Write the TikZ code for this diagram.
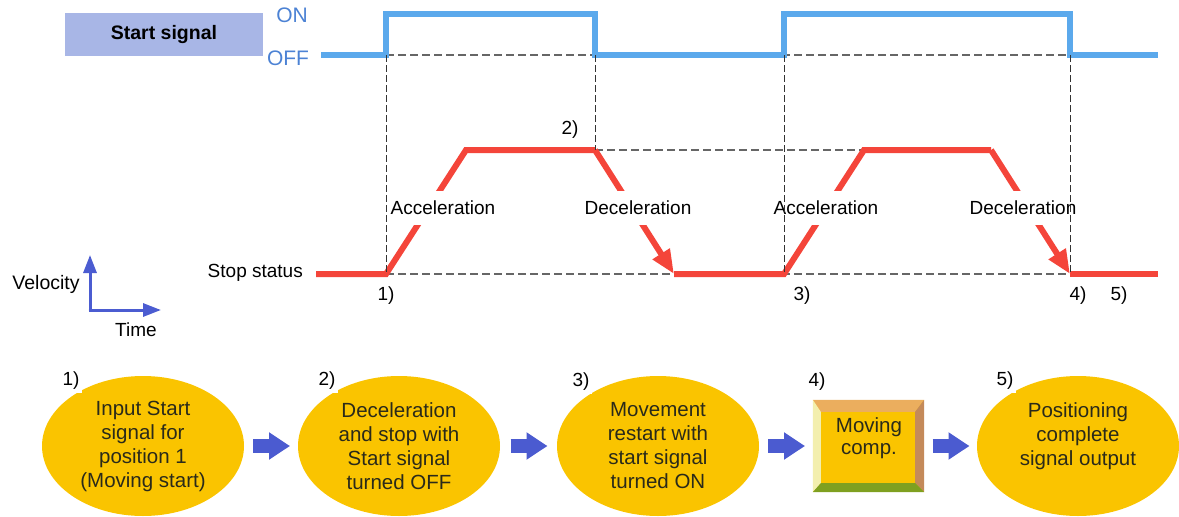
\documentclass[tikz,border=0pt]{standalone}
\usepackage{fontspec}
\setmainfont{Liberation Sans}
\usetikzlibrary{arrows.meta,shapes.geometric,calc}
\definecolor{sigblue}{HTML}{5BA9EC}
\definecolor{onoff}{HTML}{4C82D4}
\definecolor{startbox}{HTML}{A8B6E6}
\definecolor{velred}{HTML}{F4453A}
\definecolor{axblue}{HTML}{4B5CD1}
\definecolor{blkblue}{HTML}{4B5BD0}
\definecolor{ellyel}{HTML}{FAC400}
\definecolor{bxtop}{HTML}{EBAE5E}
\definecolor{bxleft}{HTML}{F3EFAE}
\definecolor{bxright}{HTML}{C48A5A}
\definecolor{bxbot}{HTML}{7FA020}
\definecolor{txtdark}{HTML}{2A2A1A}
\tikzset{
  lbl/.style={font=\fontsize{19}{22}\selectfont, inner sep=1pt},
  phase/.style={font=\fontsize{19}{22}\selectfont, fill=white, inner xsep=1pt, inner ysep=10pt},
  sigline/.style={draw=sigblue, line width=6pt, line join=miter},
  velline/.style={draw=velred, line width=6pt, line join=miter},
  velarrow/.style={velline, -{Triangle[length=24pt,width=19pt]}},
  hdash/.style={draw=black!60, line width=1.1pt, dash pattern=on 8pt off 4pt},
  vdash/.style={draw=black!80, line width=1pt, dash pattern=on 7pt off 3pt},
  axisarr/.style={draw=axblue, fill=axblue, line width=3pt, -{Triangle[length=18pt,width=13pt]}},
  ell/.style={ellipse, fill=ellyel, minimum width=202pt, minimum height=140pt, inner sep=0pt,
    align=center, text=txtdark, font=\fontsize{20.5}{24}\selectfont},
  numlbl/.style={font=\fontsize{19}{22}\selectfont, fill=white, inner sep=3pt},
  blockarr/.style={draw=blkblue, line width=14pt, -{Triangle[length=21pt,width=26pt]}},
}
\begin{document}
\begin{tikzpicture}[x=1pt,y=-1pt]
\useasboundingbox (0,0) rectangle (1179,517);

% ---- Start signal header
\node[fill=startbox, minimum width=198pt, minimum height=43pt, inner sep=0pt,
      font=\bfseries\fontsize{19.5}{22}\selectfont] (startsig) at (164,34.5) {Start signal};
\node[lbl, text=onoff, font=\fontsize{21}{24}\selectfont] (on) at (292,15) {ON};
\node[lbl, text=onoff, font=\fontsize{21}{24}\selectfont] (off) at (288,58) {OFF};

% ---- coordinates
\coordinate (s0) at (321,55);
\coordinate (t1) at (386,55); \coordinate (t1h) at (386,14);
\coordinate (t2) at (595,55); \coordinate (t2h) at (595,14);
\coordinate (t3) at (784,55); \coordinate (t3h) at (784,14);
\coordinate (t4) at (1070,55); \coordinate (t4h) at (1070,14);
\coordinate (s9) at (1158,55);

\coordinate (r0) at (316,274);
\coordinate (r1) at (386,274);
\coordinate (r2) at (466,150);
\coordinate (r3) at (595,150);
\coordinate (r4) at (674,274);
\coordinate (r5) at (784,274);
\coordinate (r6) at (864,150);
\coordinate (r7) at (991,150);
\coordinate (r8) at (1070,274);
\coordinate (r9) at (1158,274);

% ---- horizontal dashed references
\draw[hdash] (t1) -- (t4);
\draw[hdash] (r3) -- (r6);
\draw[hdash] (r1) -- (r8);

% ---- start signal waveform
\draw[sigline] (s0) -- (t1) -- (t1h) -- (t2h) -- (t2) -- (t3) -- (t3h) -- (t4h) -- (t4) -- (s9);

% ---- velocity profile
\draw[velline] (r0) -- (r1) -- (r2) -- (r3);
\draw[velarrow] (r3) -- (r4);
\draw[velline] (r4) -- (r5) -- (r6) -- (r7);
\draw[velarrow] (r7) -- (r8);
\draw[velline] (r8) -- (r9);

\node[phase] (acc1) at (443,208) {Acceleration};
\node[phase] (dec1) at (638,208) {Deceleration};
\node[phase] (acc2) at (826,208) {Acceleration};
\node[phase] (dec2) at (1023,208) {Deceleration};

% ---- vertical dashed references
\draw[vdash] (t1) -- (r1);
\draw[vdash] (t2) -- (r3);
\draw[vdash] (t3) -- (r5);
\draw[vdash] (t4) -- (r8);

% ---- labels on chart
\node[lbl, anchor=east] (stop) at (304,273) {Stop status};
\node[lbl] (p2) at (570,130) {2)};
\node[lbl] (p1) at (386,296) {1)};
\node[lbl] (p3) at (802,296) {3)};
\node[lbl] (p4) at (1078,296) {4)};
\node[lbl] (p5) at (1119,296) {5)};

% ---- velocity/time axes
\coordinate (ax0) at (90,310);
\coordinate (axv) at (90,255);
\coordinate (axh) at (161,310);
\draw[axisarr] ([yshift=-1.5pt]ax0) -- (axv);
\draw[axisarr] ([xshift=-1.5pt]ax0) -- (axh);
\node[lbl, font=\fontsize{19.5}{22}\selectfont] (vel) at (46,284) {Velocity};
\node[lbl] (time) at (136,330) {Time};

% ---- bottom flow
\node[ell] (e1) at (143,446) {Input Start\\signal for\\position 1\\(Moving start)};
\node[ell] (e2) at (399,446) {Deceleration\\and stop with\\Start signal\\turned OFF};
\node[ell] (e3) at (658,446) {Movement\\restart with\\start signal\\turned ON};
\node[fill=ellyel, minimum width=111pt, minimum height=92pt, inner sep=0pt] (b4) at (868.5,446) {};
\fill[bxtop] (b4.north west) -- (b4.north east) -- ([xshift=-9pt,yshift=-12pt]b4.north east) -- ([xshift=8pt,yshift=-12pt]b4.north west) -- cycle;
\fill[bxleft] (b4.north west) -- ([xshift=8pt,yshift=-12pt]b4.north west) -- ([xshift=8pt,yshift=9pt]b4.south west) -- (b4.south west) -- cycle;
\fill[bxright] (b4.north east) -- ([xshift=-9pt,yshift=-12pt]b4.north east) -- ([xshift=-9pt,yshift=9pt]b4.south east) -- (b4.south east) -- cycle;
\fill[bxbot] (b4.south west) -- ([xshift=8pt,yshift=9pt]b4.south west) -- ([xshift=-9pt,yshift=9pt]b4.south east) -- (b4.south east) -- cycle;
\node[align=center, text=txtdark, font=\fontsize{20.5}{22}\selectfont] (b4t) at (869,438) {Moving\\comp.};
\node[ell] (e5) at (1078,446) {Positioning\\complete\\signal output\\\mbox{}};

\draw[blockarr] ($(e1.east)!0.5!(e2.west)+(-18,0)$) -- ($(e1.east)!0.5!(e2.west)+(19,0)$);
\draw[blockarr] ($(e2.east)!0.5!(e3.west)+(-18,0)$) -- ($(e2.east)!0.5!(e3.west)+(19,0)$);
\draw[blockarr] ($(e3.east)!0.5!(b4.west)+(-18,0)$) -- ($(e3.east)!0.5!(b4.west)+(19,0)$);
\draw[blockarr] ($(b4.east)!0.5!(e5.west)+(-18,0)$) -- ($(b4.east)!0.5!(e5.west)+(19,0)$);

\node[numlbl] (n1) at (71,381) {1)};
\node[numlbl] (n2) at (327,381) {2)};
\node[numlbl] (n3) at (581,382) {3)};
\node[numlbl] (n4) at (817,382) {4)};
\node[numlbl] (n5) at (1005,381) {5)};
\end{tikzpicture}
\end{document}
